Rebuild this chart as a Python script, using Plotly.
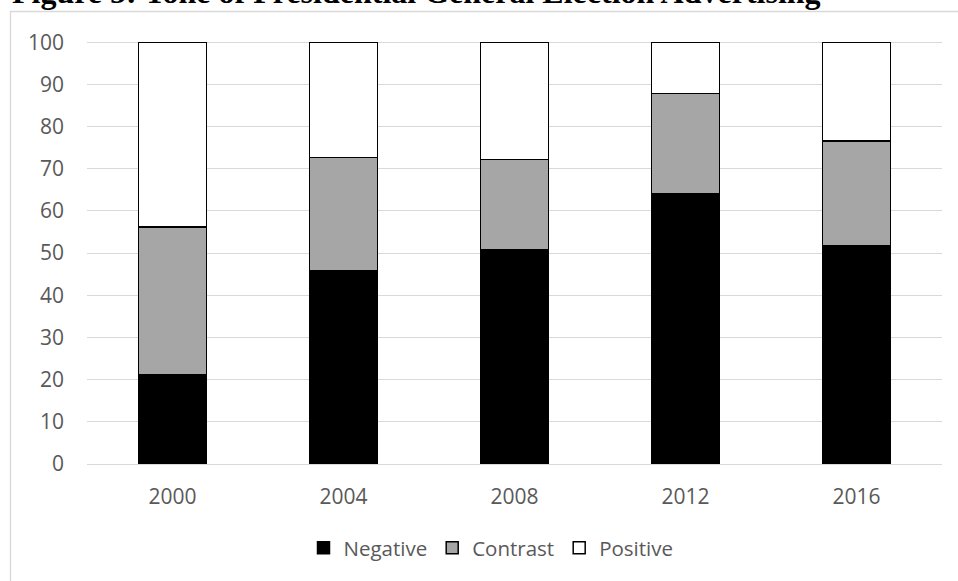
import plotly.graph_objects as go

years = ["2000", "2004", "2008", "2012", "2016"]
negative = [21.2, 45.9, 50.7, 64.0, 51.7]
contrast = [35.0, 26.8, 21.5, 23.8, 24.9]
positive = [43.8, 27.3, 27.8, 12.2, 23.4]
y_ticks = [0, 10, 20, 30, 40, 50, 60, 70, 80, 90, 100]
title_text = "Figure 5: Tone of Presidential General Election Advertising"

W, H = 958, 581
L, R, T, B = 87, 16, 41, 117
pw, ph = W - L - R, H - T - B

def px_x(p):
    return (p - L) / pw

def px_y(p):
    return (H - B - p) / ph

text_col = "#595959"
font_fam = "Open Sans, Liberation Sans, sans-serif"

fig = go.Figure()
series = [("Negative", negative, "#000000"),
          ("Contrast", contrast, "#a6a6a6"),
          ("Positive", positive, "#ffffff")]
for name, vals, col in series:
    fig.add_trace(go.Bar(
        x=years, y=vals, name=name,
        marker=dict(color=col, line=dict(color="#000000", width=1.5)),
    ))

fig.update_layout(
    width=W, height=H,
    margin=dict(l=L, r=R, t=T, b=B, autoexpand=False),
    barmode="stack",
    bargap=0.6,
    plot_bgcolor="white",
    paper_bgcolor="white",
    font=dict(family=font_fam, size=21, color=text_col),
    xaxis=dict(type="category", showgrid=False, showline=True, linecolor="#d9d9d9",
               linewidth=1, ticks="", ticklabelstandoff=14,
               tickfont=dict(family=font_fam, size=21, color=text_col)),
    yaxis=dict(range=[0, 100.3], tickvals=y_ticks, showgrid=True, gridcolor="#d9d9d9",
               gridwidth=1.3, zeroline=False, showline=False, ticks="",
               ticklabelstandoff=22,
               tickfont=dict(family=font_fam, size=21, color=text_col)),
    legend=dict(orientation="h", x=px_x(491), xanchor="center", y=px_y(548),
                yanchor="middle", font=dict(family=font_fam, size=20.5, color=text_col),
                itemwidth=30, traceorder="normal"),
    showlegend=True,
)

fig.add_shape(type="rect", xref="paper", yref="paper",
              x0=px_x(10.5), x1=px_x(1100), y0=px_y(700), y1=px_y(11.5),
              line=dict(color="#d9d9d9", width=1.3), fillcolor="rgba(0,0,0,0)",
              layer="below")

fig.add_annotation(text="<b>" + title_text + "</b>", xref="paper", yref="paper",
                   x=px_x(10), xanchor="left", y=px_y(12), yanchor="bottom",
                   showarrow=False,
                   font=dict(family="Liberation Serif, Times New Roman, serif",
                             size=32, color="#000000"))

fig.write_html("out.html")
